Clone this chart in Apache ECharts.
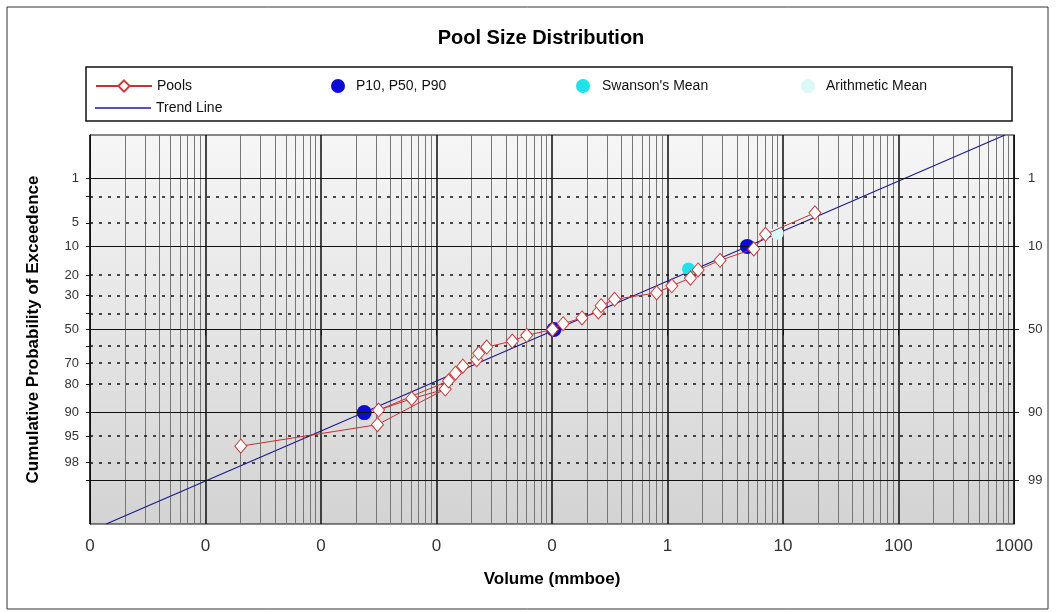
<!DOCTYPE html>
<html>
<head>
<meta charset="utf-8">
<script src="https://cdn.jsdelivr.net/npm/echarts@6/dist/echarts.min.js"></script>
<style>
  html, body { margin: 0; padding: 0; background: #fff; }
  #chart { width: 1056px; height: 612px; }
</style>
</head>
<body>
<div id="chart"></div>
<script>
// pools, in the order the red line joins them
const poolVolumes = [0.000202, 0.00308, 0.0119, 0.0061, 0.00315, 0.0127, 0.0146, 0.0169, 0.0223, 0.0232,
  0.0272, 0.0453, 0.0604, 0.101, 0.125, 0.182, 0.252, 0.266, 0.348, 0.806,
  1.09, 1.58, 1.84, 2.85, 5.58, 7.06, 18.9];
const poolExceedance = [96.4, 92.9, 82.1, 85.7, 89.3, 78.6, 75.0, 71.4, 67.9, 64.3,
  60.7, 57.1, 53.6, 50.0, 46.4, 42.9, 39.3, 35.7, 32.1, 28.6,
  25.0, 21.4, 17.9, 14.3, 10.7, 7.1, 3.6];

const pointVolumes = [0.00237, 0.104, 4.91];
const pointExceedance = [90, 50, 10];
const swansonVolume = [1.52];
const swansonExceedance = [17.5];
const arithVolume = [8.9];
const arithExceedance = [6.9];
const trendVolumes = [0.0000138, 835];
const trendExceedance = [99.865, 0.135];

const leftLabels = [1, 5, 10, 20, 30, 50, 70, 80, 90, 95, 98];
const rightLabels = [1, 10, 50, 90, 99];
const solidLines = [1, 10, 50, 90, 99];
const dottedLines = [2, 5, 20, 30, 40, 60, 70, 80, 95, 98];
const decades = [1e-5, 1e-4, 1e-3, 1e-2, 1e-1, 1, 10, 100];
const minorSteps = [2, 3, 4, 5, 6, 7, 8, 9];

// inverse normal cdf (Acklam), used for the probability axis
function normInv(p) {
  const a = [-39.69683028665376, 220.9460984245205, -275.9285104469687, 138.357751867269, -30.66479806614716, 2.506628277459239];
  const b = [-54.47609879822406, 161.5858368580409, -155.6989798598866, 66.80131188771972, -13.28068155288572];
  const c = [-0.007784894002430293, -0.3223964580411365, -2.400758277161838, -2.549732539343734, 4.374664141464968, 2.938163982698783];
  const d = [0.007784695709041462, 0.3224671290700398, 2.445134137142996, 3.754408661907416];
  const lo = 0.02425;
  let q, r;
  if (p < lo) {
    q = Math.sqrt(-2 * Math.log(p));
    return (((((c[0] * q + c[1]) * q + c[2]) * q + c[3]) * q + c[4]) * q + c[5]) /
      ((((d[0] * q + d[1]) * q + d[2]) * q + d[3]) * q + 1);
  }
  if (p > 1 - lo) {
    q = Math.sqrt(-2 * Math.log(1 - p));
    return -(((((c[0] * q + c[1]) * q + c[2]) * q + c[3]) * q + c[4]) * q + c[5]) /
      ((((d[0] * q + d[1]) * q + d[2]) * q + d[3]) * q + 1);
  }
  q = p - 0.5;
  r = q * q;
  return (((((a[0] * r + a[1]) * r + a[2]) * r + a[3]) * r + a[4]) * r + a[5]) * q /
    (((((b[0] * r + b[1]) * r + b[2]) * r + b[3]) * r + b[4]) * r + 1);
}

const toZ = (pct) => normInv(pct / 100);
const pairs = (xs, ps) => xs.map((x, i) => [x, toZ(ps[i])]);
const labelFor = (list) => (z) => {
  const hit = list.find((p) => Math.abs(toZ(p) - z) < 1e-6);
  return hit === undefined ? "" : String(hit);
};

const minorValues = [];
decades.forEach((dec) => minorSteps.forEach((m) => minorValues.push(dec * m)));

const FONT = "Liberation Sans, Arial, sans-serif";
const textStyle = { fontFamily: FONT, color: "#000" };

const chart = echarts.init(document.getElementById("chart"));

const legendBase = {
  orient: "horizontal",
  itemHeight: 14,
  selectedMode: false,
  textStyle: { fontFamily: FONT, fontSize: 14, color: "#111" }
};

chart.setOption({
  animation: false,
  backgroundColor: "#fff",
  textStyle,
  title: {
    text: "Pool Size Distribution",
    left: 536,
    top: 23,
    textAlign: "center",
    textStyle: { fontFamily: FONT, fontSize: 20, fontWeight: "bold", color: "#000" }
  },
  legend: [
    { ...legendBase, left: 90, top: 74, itemWidth: 56, data: ["Pools"] },
    { ...legendBase, left: 90, top: 96, itemWidth: 56, itemHeight: 1.5, data: [{ name: "Trend Line", icon: "rect" }] },
    { ...legendBase, left: 326, top: 74, itemWidth: 26, data: [{ name: "P10, P50, P90", icon: "circle" }] },
    { ...legendBase, left: 571, top: 74, itemWidth: 28, data: [{ name: "Swanson's Mean", icon: "circle" }] },
    { ...legendBase, left: 796, top: 74, itemWidth: 26, data: [{ name: "Arithmetic Mean", icon: "circle" }] }
  ],
  graphic: [
    {
      type: "rect",
      silent: true,
      shape: { x: 7, y: 7, width: 1041, height: 602 },
      style: { fill: "none", stroke: "#333", lineWidth: 1 }
    },
    {
      type: "rect",
      silent: true,
      shape: { x: 86, y: 67, width: 926, height: 54 },
      style: { fill: "none", stroke: "#111", lineWidth: 1.5 }
    }
  ],
  grid: {
    left: 90,
    right: 42,
    top: 135,
    height: 389,
    show: true,
    borderColor: "#111",
    borderWidth: 1,
    backgroundColor: new echarts.graphic.LinearGradient(0, 0, 0, 1, [
      { offset: 0, color: "#f6f6f6" },
      { offset: 1, color: "#d3d3d3" }
    ])
  },
  xAxis: {
    type: "log",
    logBase: 10,
    min: 1e-5,
    max: 1000,
    interval: 1,
    name: "Volume (mmboe)",
    nameLocation: "middle",
    nameGap: 47,
    nameTextStyle: { fontFamily: FONT, fontSize: 17, fontWeight: "bold", color: "#000" },
    axisLine: { lineStyle: { color: "#111", width: 1 } },
    axisTick: { show: true, inside: false, length: 6, lineStyle: { color: "#111" } },
    axisLabel: {
      margin: 14,
      fontFamily: FONT,
      fontSize: 17,
      color: "#333",
      formatter: (v) => (v >= 1 ? String(Math.round(v)) : "0")
    },
    splitLine: { show: true, lineStyle: { color: "#1a1a1a", width: 1.6 } }
  },
  yAxis: [
    {
      type: "value",
      inverse: true,
      min: -3,
      max: 3,
      position: "left",
      name: "Cumulative Probability of Exceedence",
      nameLocation: "middle",
      nameRotate: 90,
      nameGap: 48,
      nameTextStyle: { fontFamily: FONT, fontSize: 17, fontWeight: "bold", color: "#000" },
      axisLine: { show: true, lineStyle: { color: "#111" } },
      axisTick: {
        show: true,
        length: 4,
        customValues: solidLines.concat(dottedLines).map(toZ),
        lineStyle: { color: "#111" }
      },
      axisLabel: {
        margin: 11,
        fontFamily: FONT,
        fontSize: 13,
        color: "#333",
        customValues: leftLabels.map(toZ),
        formatter: labelFor(leftLabels)
      },
      splitLine: { show: false }
    },
    {
      type: "value",
      inverse: true,
      min: -3,
      max: 3,
      position: "right",
      axisLine: { show: true, lineStyle: { color: "#111" } },
      axisTick: {
        show: true,
        length: 5,
        customValues: rightLabels.map(toZ),
        lineStyle: { color: "#111" }
      },
      axisLabel: {
        margin: 14,
        fontFamily: FONT,
        fontSize: 13,
        color: "#333",
        customValues: rightLabels.map(toZ),
        formatter: labelFor(rightLabels)
      },
      splitLine: { show: false }
    }
  ],
  series: [
    {
      name: "minor grid",
      type: "lines",
      coordinateSystem: "cartesian2d",
      silent: true,
      z: 1,
      lineStyle: { color: "#767676", width: 1, opacity: 1, curveness: 0 },
      data: minorValues.map((v) => ({ coords: [[v, -3], [v, 3]] }))
    },
    {
      name: "probability grid",
      type: "line",
      data: [],
      silent: true,
      z: 2,
      markLine: {
        silent: true,
        symbol: "none",
        label: { show: false },
        data: solidLines.map((p) => ({ yAxis: toZ(p), lineStyle: { color: "#111", width: 1.2, type: "solid" } }))
          .concat(dottedLines.map((p) => ({ yAxis: toZ(p), lineStyle: { color: "#111", width: 1.5, type: [3, 6] } })))
      }
    },
    {
      name: "Trend Line",
      type: "line",
      z: 3,
      data: pairs(trendVolumes, trendExceedance),
      showSymbol: false,
      symbol: "none",
      itemStyle: { color: "#1c1c8c" },
      lineStyle: { color: "#1c1c8c", width: 1.2 }
    },
    {
      name: "Arithmetic Mean",
      type: "scatter",
      z: 4,
      data: pairs(arithVolume, arithExceedance),
      symbol: "circle",
      symbolSize: 13,
      itemStyle: { color: "#dcf9fa", opacity: 1 }
    },
    {
      name: "Swanson's Mean",
      type: "scatter",
      z: 4,
      data: pairs(swansonVolume, swansonExceedance),
      symbol: "circle",
      symbolSize: 13,
      itemStyle: { color: "#1ee3ea", opacity: 1 }
    },
    {
      name: "P10, P50, P90",
      type: "scatter",
      z: 4,
      data: pairs(pointVolumes, pointExceedance),
      symbol: "circle",
      symbolSize: 15,
      itemStyle: { color: "#0b0bd4", opacity: 1 }
    },
    {
      name: "Pools",
      type: "line",
      z: 5,
      data: pairs(poolVolumes, poolExceedance),
      symbol: "diamond",
      symbolSize: [12, 14],
      showSymbol: true,
      itemStyle: { color: "#fff", borderColor: "#cc3b3b", borderWidth: 1 },
      lineStyle: { color: "#c83232", width: 1 }
    }
  ]
});
</script>
</body>
</html>
